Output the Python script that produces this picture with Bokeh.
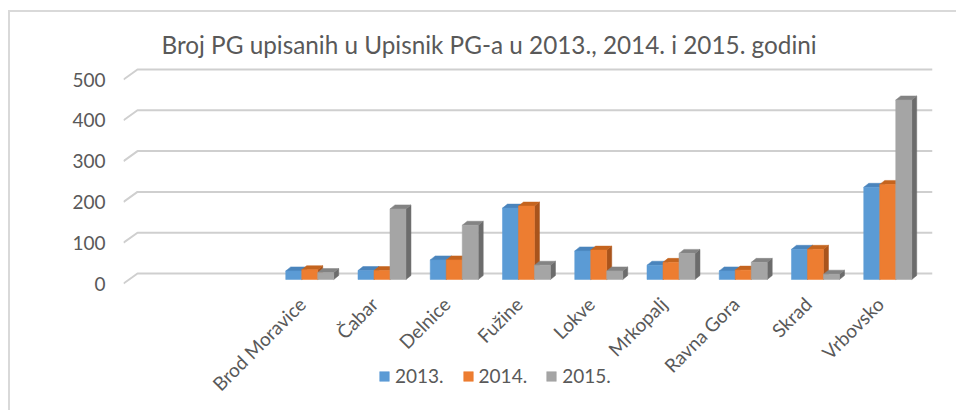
import math
from bokeh.plotting import figure
from bokeh.models import Range1d, FixedTicker, Legend, LegendItem, Title
from bokeh.core.properties import value
from bokeh.embed import file_html
from bokeh.resources import INLINE

# ---------------- data ----------------
title_text = "Broj PG upisanih u Upisnik PG-a u 2013., 2014. i 2015. godini"
categories = ["Brod Moravice", "Čabar", "Delnice", "Fužine", "Lokve",
              "Mrkopalj", "Ravna Gora", "Skrad", "Vrbovsko"]
series_names = ["2013.", "2014.", "2015."]
v2013 = [21, 22, 48, 175, 70, 35, 21, 74, 226]
v2014 = [24, 22, 48, 180, 72, 42, 23, 74, 233]
v2015 = [17, 173, 133, 35, 21, 64, 42, 13, 440]
y_ticks = [0, 100, 200, 300, 400, 500]

# ---------------- layout / style ----------------
N_BLANK = 2             # empty category slots before the first category
FRAME_W, FRAME_H = 809, 350
SLOT_PX = 72.25
Y_PX = 0.408
FLOOR_DX, FLOOR_DY = 14, 10
BAR_PLANE = 0.4
BAR_W_PX = 16
BAR_DX, BAR_DY = 5, 4
LABEL_DX_PX, LABEL_DY_PX = -2, 17

FONT = "Lato"
TXT = "#595959"
fronts = ["#5B9BD5", "#ED7D31", "#A5A5A5"]
tops = ["#4A84BC", "#C4641F", "#838383"]
sides = ["#3F6F9C", "#A9541C", "#6C6C6C"]


def ux(px):
    return px / SLOT_PX


def uy(px):
    return px / Y_PX


x_end = FRAME_W / SLOT_PX
y_start = -127 / Y_PX
y_end = y_start + FRAME_H / Y_PX

p = figure(width=956, height=410,
           x_range=Range1d(0, x_end), y_range=Range1d(y_start, y_end),
           output_backend="svg", toolbar_location=None,
           x_axis_location=None,
           min_border_left=123, min_border_right=24,
           min_border_top=60, min_border_bottom=0)
p.outline_line_color = None
p.xgrid.visible = False
p.ygrid.visible = False
p.background_fill_color = "white"
p.border_fill_alpha = 0
# thin light-grey chart border (left and top edges)
p.styles = {
    "background": ("linear-gradient(#D9D9D9, #D9D9D9) 8px 10px / 2px 100% no-repeat, "
                   "linear-gradient(#D9D9D9, #D9D9D9) 8px 10px / 100% 2px no-repeat, "
                   "white")
}

# title
p.add_layout(Title(text=title_text, align="left", offset=38, standoff=3,
                   text_font=FONT, text_font_size="24.3px",
                   text_font_style="normal", text_color=TXT), "above")

# 3D gridlines (diagonal at the left + back wall line)
gx, gy = [], []
for t in y_ticks:
    gx.append([0, ux(FLOOR_DX), x_end])
    gy.append([t, t + uy(FLOOR_DY), t + uy(FLOOR_DY)])
p.multi_line(gx, gy, line_color="#CFCFCF", line_width=2)

# bars
series = [v2013, v2014, v2015]
bw = ux(BAR_W_PX)
dx, dy = ux(BAR_DX), uy(BAR_DY)
base = uy(FLOOR_DY * BAR_PLANE)
legend_items = []
for s, vals in enumerate(series):
    lefts, rights, topsv = [], [], []
    sx, sy, tx, ty = [], [], [], []
    for i, v in enumerate(vals):
        c = N_BLANK + i + 0.5 + ux(FLOOR_DX * BAR_PLANE)
        xl = c - 1.5 * bw + s * bw
        xr = xl + bw
        t = base + v
        lefts.append(xl)
        rights.append(xr)
        topsv.append(t)
        sx.append([xr, xr + dx, xr + dx, xr])
        sy.append([base, base + dy, t + dy, t])
        tx.append([xl, xr, xr + dx, xl + dx])
        ty.append([t, t, t + dy, t + dy])
    p.patches(sx, sy, fill_color=sides[s], line_color=sides[s], line_width=0.5)
    p.patches(tx, ty, fill_color=tops[s], line_color=tops[s], line_width=0.5)
    r = p.quad(left=lefts, right=rights, bottom=base, top=topsv,
               fill_color=fronts[s], line_color=fronts[s], line_width=0.5)
    legend_items.append(LegendItem(label=series_names[s], renderers=[r]))

# category labels (rotated 45 degrees, ending at each category)
x_ticks = [N_BLANK + i + 0.5 for i in range(len(categories))]
p.text(x=[t + ux(LABEL_DX_PX) for t in x_ticks],
       y=[-uy(LABEL_DY_PX)] * len(categories), text=categories,
       angle=math.pi / 4, text_align="right", text_baseline="middle",
       text_font=value(FONT), text_font_size="19px", text_color=TXT)

# y axis
yax = p.yaxis[0]
yax.ticker = FixedTicker(ticks=y_ticks)
yax.axis_line_color = None
yax.major_tick_line_color = None
yax.minor_tick_line_color = None
yax.major_tick_out = 0
yax.major_tick_in = 0
yax.major_label_standoff = 18
yax.major_label_text_font = FONT
yax.major_label_text_font_size = "19px"
yax.major_label_text_color = TXT

legend = Legend(items=legend_items, orientation="horizontal",
                location=(255, 23), glyph_width=12, glyph_height=12,
                label_standoff=5, spacing=18, padding=0, margin=0,
                border_line_color=None, background_fill_alpha=0,
                label_text_font=FONT, label_text_font_size="19px",
                label_text_color=TXT)
p.add_layout(legend)

open("out.html", "w").write(file_html(p, INLINE))
